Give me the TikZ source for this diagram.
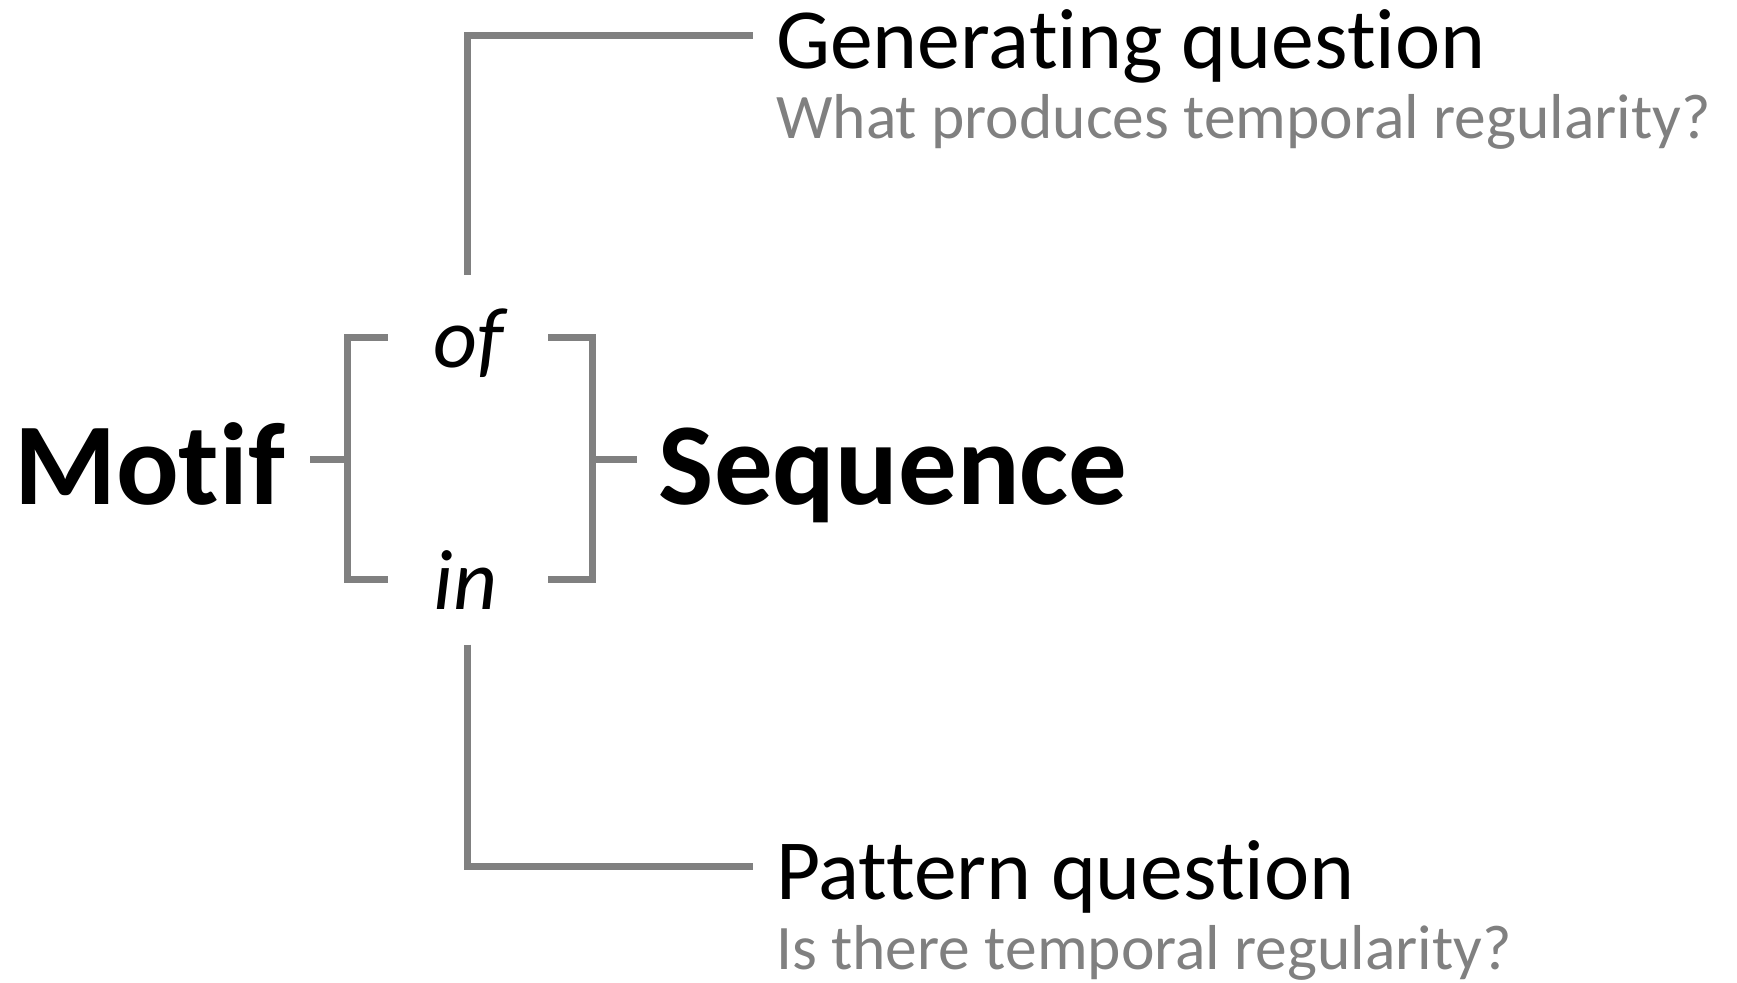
\documentclass[tikz,border=0pt]{standalone}
\usepackage{fontspec}
\setmainfont{Carlito}[Ligatures={NoCommon,NoRare,NoContextual}]
\usepackage{tikz}
\usetikzlibrary{positioning}

\definecolor{linkgray}{HTML}{808080}

\begin{document}
\begin{tikzpicture}[
  link/.style={draw=linkgray, line width=1.8pt, line join=miter},
  term/.style={inner sep=0pt, anchor=base west, font=\fontsize{30}{36}\selectfont\bfseries},
  prep/.style={inner sep=0pt, anchor=base, font=\fontsize{22}{26}\selectfont\itshape},
  head/.style={inner sep=0pt, anchor=base west, font=\fontsize{22}{26}\selectfont},
  sub/.style={inner sep=0pt, anchor=base west, text=linkgray, font=\fontsize{16.3}{20}\selectfont}
]
\useasboundingbox (0,0) rectangle (15.68,8.87);

% the two terms and the bracket between them
\node[term] (motif) at (0.12,4.32) {Motif};
\node[term] (seq) at (5.94,4.32) {Sequence};
\node[prep] (of) at (4.23,5.55) {of};
\node[prep] (in) at (4.20,3.37) {in};

\coordinate (lt) at (3.14,5.82);
\coordinate (lb) at (3.14,3.64);
\coordinate (lm) at (3.14,4.72);
\coordinate (rt) at (5.35,5.82);
\coordinate (rb) at (5.35,3.64);
\coordinate (rm) at (5.35,4.72);
\draw[link] (3.50,5.82) -- (lt) -- (lb) -- (3.50,3.64);
\draw[link] (4.95,5.82) -- (rt) -- (rb) -- (4.95,3.64);
\draw[link] (2.80,4.72) -- (lm);
\draw[link] (rm) -- (5.75,4.72);

% questions
\node[head] (gen) at (7.00,8.25) {Generating question};
\node[sub] (genq) at (7.00,7.62) {What produces temporal regularity?};
\node[head] (pat) at (7.00,0.75) {Pattern question};
\node[sub] (patq) at (7.00,0.12) {Is there temporal regularity?};

\coordinate (ofup) at (4.22,6.39);
\coordinate (genin) at (6.80,8.55);
\coordinate (indown) at (4.22,3.05);
\coordinate (patin) at (6.80,1.05);
\draw[link] (ofup) |- (genin);
\draw[link] (indown) |- (patin);
\end{tikzpicture}
\end{document}
